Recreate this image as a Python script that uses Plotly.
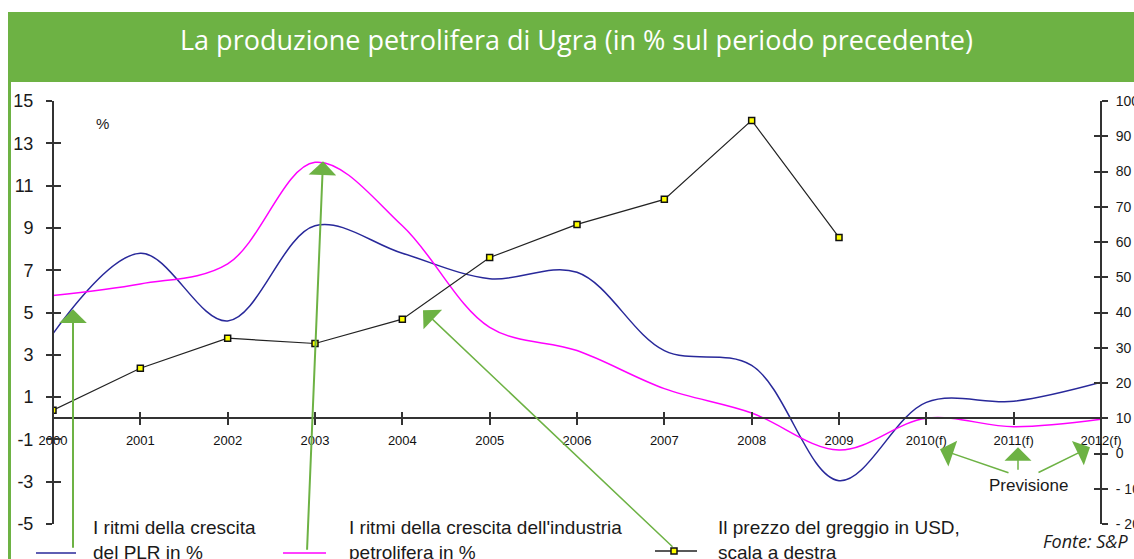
import plotly.graph_objects as go

# ---------------- data ----------------
years = [2000, 2001, 2002, 2003, 2004, 2005, 2006, 2007, 2008, 2009, 2010, 2011, 2012]
year_labels = ["2000", "2001", "2002", "2003", "2004", "2005", "2006", "2007",
               "2008", "2009", "2010(f)", "2011(f)", "2012(f)"]
gdp_growth = [4.0, 7.8, 4.6, 9.1, 7.8, 6.6, 6.9, 3.2, 2.5, -2.95, 0.75, 0.8, 1.7]
oil_growth = [5.8, 6.35, 7.3, 12.1, 9.1, 4.3, 3.2, 1.4, 0.25, -1.5, 0.0, -0.4, -0.05]
price_years = [2000, 2001, 2002, 2003, 2004, 2005, 2006, 2007, 2008, 2009]
oil_price = [12.3, 24.2, 32.7, 31.2, 38.1, 55.6, 65.0, 72.1, 94.5, 61.3]

left_ticks = [15, 13, 11, 9, 7, 5, 3, 1, -1, -3, -5]
left_labels = ["15", "13", "11", "9", "7", "5", "3", "1", "-1", "-3", "-5"]
right_ticks = [100, 90, 80, 70, 60, 50, 40, 30, 20, 10, 0, -10, -20]
right_labels = ["100", "90", "80", "70", "60", "50", "40", "30", "20", "10", "0", "- 10", "- 20"]

title = "La produzione petrolifera di Ugra (in % sul periodo precedente)"
legend_texts = ["I ritmi della crescita<br>del PLR in %",
                "I ritmi della crescita dell'industria<br>petrolifera in %",
                "Il prezzo del greggio in USD,<br>scala a destra"]

# ---------------- layout geometry (pixels) ----------------
W, H = 1134, 559
L, R, T, B = 53, 1101, 101, 524


def px(x):
    return (x - L) / (R - L)


def py(y):
    return (B - y) / (B - T)


GREEN = "#6db244"
BLUE = "#28289a"
MAGENTA = "#ff00ff"
AXC = "#333333"
FONT = "Liberation Sans, Arial, sans-serif"

fig = go.Figure()

fig.add_trace(go.Scatter(x=years, y=gdp_growth, mode="lines",
                         line=dict(color=BLUE, width=1.5, shape="spline", smoothing=1.0),
                         xaxis="x", yaxis="y", showlegend=False))
fig.add_trace(go.Scatter(x=years, y=oil_growth, mode="lines",
                         line=dict(color=MAGENTA, width=1.5, shape="spline", smoothing=1.0),
                         xaxis="x", yaxis="y", showlegend=False))
fig.add_trace(go.Scatter(x=price_years, y=oil_price, mode="lines+markers",
                         line=dict(color="#222222", width=1.2),
                         marker=dict(symbol="square", size=6, color="#ffff00",
                                     line=dict(color="#111111", width=1.5)),
                         xaxis="x", yaxis="y2", showlegend=False))

zero_pos = (0 - (-5)) / 20.0

common_x = dict(range=[2000, 2012], domain=[0, 1], anchor="free", position=zero_pos,
                tickvals=years, showgrid=False, zeroline=False, fixedrange=True,
                automargin=False)

fig.update_layout(
    template="none",
    width=W, height=H, autosize=False,
    margin=dict(l=L, r=W - R, t=T, b=H - B, pad=0),
    paper_bgcolor="white", plot_bgcolor="white",
    font=dict(family=FONT, color="#1a1a1a"),
    xaxis=dict(**common_x, ticktext=year_labels, showline=True, linecolor=AXC, linewidth=2,
               ticks="outside", ticklen=6, tickwidth=1.5, tickcolor=AXC,
               tickfont=dict(size=13, family=FONT, color="#111111"), ticklabelstandoff=4),
    xaxis2=dict(**common_x, overlaying="x", showline=False, ticks="inside", ticklen=6,
                tickwidth=1.5, tickcolor=AXC, showticklabels=False),
    yaxis=dict(range=[-5, 15], domain=[0, 1], anchor="free", position=0, side="left",
               tickvals=left_ticks, ticktext=left_labels, showline=True, linecolor=AXC, linewidth=2,
               ticks="outside", ticklen=6, tickwidth=1.5, tickcolor=AXC,
               tickfont=dict(size=18, family=FONT, color="#1a1a1a"), ticklabelstandoff=9,
               showgrid=False, zeroline=False, fixedrange=True, automargin=False),
    yaxis3=dict(range=[-5, 15], overlaying="y", anchor="free", position=0, side="left",
                tickvals=left_ticks, ticks="inside", ticklen=7, tickwidth=1.5, tickcolor=AXC,
                showticklabels=False, showline=False, showgrid=False, zeroline=False,
                automargin=False),
    yaxis2=dict(range=[-20, 100], overlaying="y", anchor="free", position=1, side="right",
                tickvals=right_ticks, ticktext=right_labels, showline=True, linecolor=AXC,
                linewidth=2, ticks="outside", ticklen=6, tickwidth=1.5, tickcolor=AXC,
                tickfont=dict(size=14, family=FONT, color="#1a1a1a"), ticklabelstandoff=5,
                showgrid=False, zeroline=False, fixedrange=True, automargin=False),
    yaxis4=dict(range=[-20, 100], overlaying="y", anchor="free", position=1, side="right",
                tickvals=right_ticks, ticks="inside", ticklen=7, tickwidth=1.5, tickcolor=AXC,
                showticklabels=False, showline=False, showgrid=False, zeroline=False,
                automargin=False),
)

# dummy traces to activate overlay axes
fig.add_trace(go.Scatter(x=[None], y=[None], xaxis="x2", yaxis="y3", showlegend=False, hoverinfo="skip"))
fig.add_trace(go.Scatter(x=[None], y=[None], xaxis="x2", yaxis="y4", showlegend=False, hoverinfo="skip"))

shapes = []
# header band
shapes.append(dict(type="rect", xref="paper", yref="paper", x0=px(8), x1=px(W + 10),
                   y0=py(82), y1=py(12), fillcolor=GREEN, line=dict(width=0), layer="below"))
# left green border
shapes.append(dict(type="line", xref="paper", yref="paper", x0=px(9.5), x1=px(9.5),
                   y0=py(82), y1=py(H + 5), line=dict(color=GREEN, width=3)))
# legend keys
shapes.append(dict(type="line", xref="paper", yref="paper", x0=px(36), x1=px(76),
                   y0=py(553), y1=py(553), line=dict(color=BLUE, width=1.5)))
shapes.append(dict(type="line", xref="paper", yref="paper", x0=px(283), x1=px(326),
                   y0=py(553), y1=py(553), line=dict(color=MAGENTA, width=1.5)))
shapes.append(dict(type="line", xref="paper", yref="paper", x0=px(655), x1=px(697),
                   y0=py(551), y1=py(551), line=dict(color="#222222", width=1.5)))
shapes.append(dict(type="rect", xref="paper", yref="paper", x0=px(671), x1=px(677),
                   y0=py(554), y1=py(548), fillcolor="#ffff00", line=dict(color="#111111", width=1.5)))
fig.update_layout(shapes=shapes)

ann = []
ann.append(dict(text=title, xref="paper", yref="paper", x=px(576), y=py(39),
                xanchor="center", yanchor="middle", showarrow=False,
                font=dict(family="Open Sans, sans-serif", size=27, color="white")))
ann.append(dict(text="%", xref="paper", yref="paper", x=px(102), y=py(124),
                xanchor="center", yanchor="middle", showarrow=False,
                font=dict(family=FONT, size=15, color="#1a1a1a")))
for txt, xl in zip(legend_texts, [91, 347, 716]):
    ann.append(dict(text=txt, xref="paper", yref="paper", x=px(xl), y=py(540),
                    xanchor="left", yanchor="middle", align="left", showarrow=False,
                    font=dict(family=FONT, size=19, color="#1a1a1a")))
ann.append(dict(text="Previsione", xref="paper", yref="paper", x=px(1028), y=py(485),
                xanchor="center", yanchor="middle", showarrow=False,
                font=dict(family=FONT, size=17, color="#1a1a1a")))
ann.append(dict(text="<i>Fonte: S&P</i>", xref="paper", yref="paper", x=px(1130), y=py(541),
                xanchor="right", yanchor="middle", showarrow=False,
                font=dict(family="Open Sans, sans-serif", size=18, color="#1a1a1a")))


def xv(p):
    return 2000 + (p - L) / ((R - L) / 12.0)


def yv(p):
    return (418 - p) / ((B - T) / 20.0)


# green pointer arrows (tip in data coords, tail offset in pixels)
arrows = [
    (73, 309, 0, 240, 2, 2.3),
    (323, 161, -16, 390, 2, 2.3),
    (423, 310, 251, 238, 1.5, 3.0),
    (940, 449, 70, 24, 1.5, 3.0),
    (1018, 447, 0, 24, 1.5, 3.0),
    (1090, 447, -53, 26, 1.5, 3.0),
]
for tx, ty, dx, dy, w, s in arrows:
    ann.append(dict(text="", x=xv(tx), y=yv(ty), xref="x", yref="y", ax=dx, ay=dy,
                    showarrow=True, arrowhead=1, arrowsize=s, arrowwidth=w,
                    arrowcolor=GREEN, standoff=0))

fig.update_layout(annotations=ann)

fig.write_html("out.html", config={"displayModeBar": False},
               post_script="document.body.style.margin='0';document.body.style.overflow='hidden';")
